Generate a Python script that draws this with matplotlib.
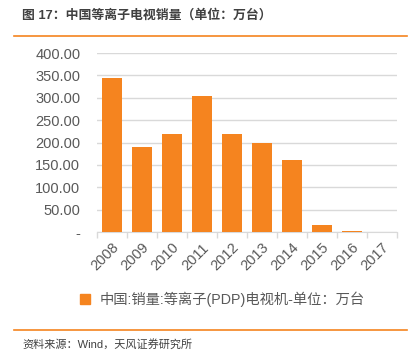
import numpy as np
from matplotlib import pyplot as plt
from matplotlib.lines import Line2D

plt.rcParams['font.family'] = ['Liberation Sans', 'Noto Sans CJK SC', 'DejaVu Sans']

# Daten
years = ['2008', '2009', '2010', '2011', '2012', '2013', '2014', '2015', '2016', '2017']
sales = [344, 191, 220, 304, 220, 199, 161, 15, 2, 0]
yticks = [0, 50, 100, 150, 200, 250, 300, 350, 400]
ytick_labels = ['-'] + ['%.2f' % v for v in yticks[1:]]

orange = '#F5841F'
gray = '#595959'

fig = plt.figure(figsize=(4.16, 3.61), dpi=100)
ax = fig.add_axes([0.233, 0.357, 0.721, 0.496])

x = np.arange(len(years))
ax.bar(x, sales, width=0.66, color=orange, zorder=3)

ax.set_xlim(-0.5, len(years) - 0.5)
ax.set_ylim(0, 400)
ax.set_yticks(yticks)
ax.set_yticklabels(ytick_labels)
ax.grid(axis='y', color='#d9d9d9', linewidth=1, zorder=0)

# Kategorie-Ticks zwischen den Balken
ax.set_xticks(np.arange(len(years) + 1) - 0.5, minor=True)
ax.set_xticks(x)
ax.set_xticklabels(years, rotation=45, ha='right', rotation_mode='anchor')
ax.tick_params(axis='x', which='major', length=0, pad=6, labelsize=10.5, labelcolor=gray)
ax.tick_params(axis='x', which='minor', length=4, color='#d9d9d9', width=1)
ax.tick_params(axis='y', length=0, pad=12, labelsize=10.5, labelcolor=gray)

for s in ['left', 'right', 'top']:
    ax.spines[s].set_visible(False)
ax.spines['bottom'].set_color('#d9d9d9')

# Legende
handle = Line2D([], [], marker='s', linestyle='none', color=orange, markersize=7)
fig.legend([handle], ['中国:销量:等离子(PDP)电视机-单位：万台'],
           loc='center left', bbox_to_anchor=(0.14, 0.172), frameon=False,
           handletextpad=0.0, fontsize=10.3, labelcolor=gray)

# Titel und Quelle
fig.text(0.053, 0.958, '图 17：中国等离子电视销量（单位：万台）', fontsize=9.3,
         fontweight='bold', color='#404040', va='center', ha='left')
fig.add_artist(Line2D([0.034, 0.978], [0.9, 0.9], color=orange, linewidth=1.2,
                      transform=fig.transFigure))
fig.add_artist(Line2D([0.034, 0.978], [0.086, 0.086], color=orange, linewidth=1.2,
                      transform=fig.transFigure))
fig.text(0.053, 0.045, '资料来源：Wind，天风证券研究所', fontsize=8,
         color='#404040', va='center', ha='left')

fig.savefig('out.png', dpi=100)
